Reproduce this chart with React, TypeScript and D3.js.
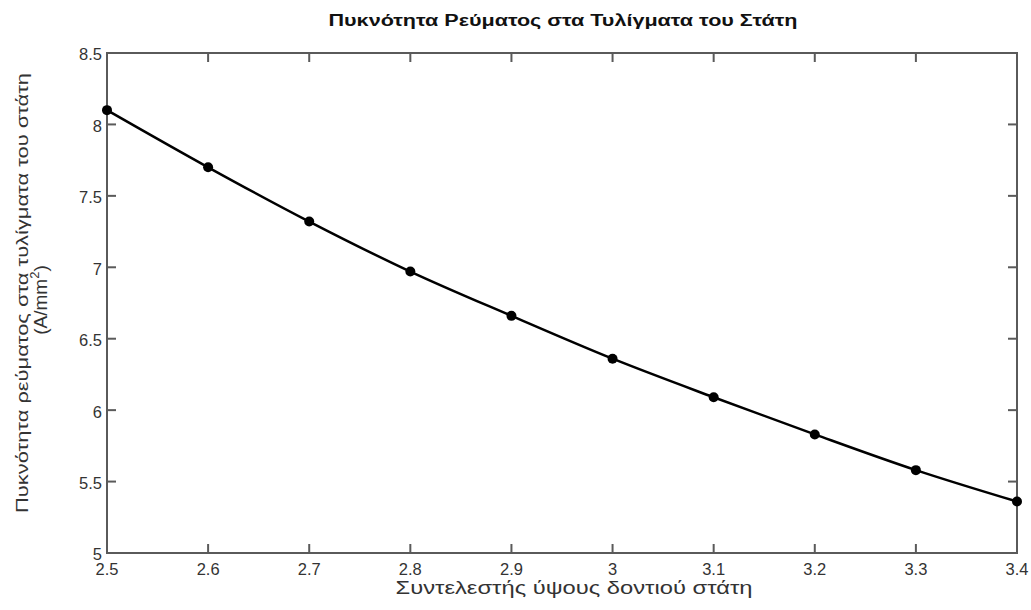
import * as d3 from 'd3';

const xValues = [2.5, 2.6, 2.7, 2.8, 2.9, 3.0, 3.1, 3.2, 3.3, 3.4];
const densityValues = [8.1, 7.7, 7.32, 6.97, 6.66, 6.36, 6.09, 5.83, 5.58, 5.36];
const xTicks = [2.5, 2.6, 2.7, 2.8, 2.9, 3.0, 3.1, 3.2, 3.3, 3.4];
const yTicks = [5, 5.5, 6, 6.5, 7, 7.5, 8, 8.5];

const title = 'Πυκνότητα Ρεύματος στα Τυλίγματα του Στάτη';
const xLabel = 'Συντελεστής ύψους δοντιού στάτη';
const yLabel1 = 'Πυκνότητα ρεύματος στα τυλίγματα του στάτη';

const width = 1031;
const height = 610;
const margin = { top: 53, right: 14, bottom: 57, left: 107 };

export default function App() {
  const innerW = width - margin.left - margin.right;
  const innerH = height - margin.top - margin.bottom;

  const x = d3.scaleLinear().domain([2.5, 3.4]).range([0, innerW]);
  const y = d3.scaleLinear().domain([5, 8.5]).range([innerH, 0]);

  const pts = xValues.map((v, i) => ({ x: v, y: densityValues[i] }));
  const line = d3.line<{ x: number; y: number }>()
    .x(d => x(d.x))
    .y(d => y(d.y))
    .curve(d3.curveMonotoneX);

  const axisColor = '#5a5a5a';
  const textColor = '#333';
  const font = '"Liberation Sans", Arial, sans-serif';
  const tick = 9;

  return (
    <svg
      width={width}
      height={height}
      style={{ position: 'absolute', left: 0, top: 0, background: '#fff' }}
      fontFamily={font}
    >
      <text
        x={563} y={26} textAnchor="middle" fontSize={16} fontWeight="bold" fill="#111"
        textLength={469} lengthAdjust="spacingAndGlyphs"
      >
        {title}
      </text>
      <g transform={`translate(${margin.left},${margin.top})`}>
        {/* box */}
        <rect x={0} y={0} width={innerW} height={innerH} fill="none" stroke={axisColor} strokeWidth={2} />
        {xTicks.map(t => (
          <g key={'x' + t}>
            <line x1={x(t)} x2={x(t)} y1={innerH} y2={innerH - tick} stroke={axisColor} strokeWidth={2} />
            <line x1={x(t)} x2={x(t)} y1={0} y2={tick} stroke={axisColor} strokeWidth={2} />
            <text x={x(t)} y={innerH + 22} textAnchor="middle" fontSize={16.5} fill={textColor}>
              {d3.format('~g')(t)}
            </text>
          </g>
        ))}
        {yTicks.map(t => (
          <g key={'y' + t}>
            <line x1={0} x2={tick} y1={y(t)} y2={y(t)} stroke={axisColor} strokeWidth={2} />
            <line x1={innerW} x2={innerW - tick} y1={y(t)} y2={y(t)} stroke={axisColor} strokeWidth={2} />
            <text x={-5} y={y(t)} dy="0.45em" textAnchor="end" fontSize={16.5} fill={textColor}>
              {d3.format('~g')(t)}
            </text>
          </g>
        ))}
        <path d={line(pts) ?? ''} fill="none" stroke="#000" strokeWidth={2.5} />
        {pts.map((p, i) => (
          <circle key={i} cx={x(p.x)} cy={y(p.y)} r={5} fill="#000" />
        ))}
      </g>
      <text
        x={574} y={594} textAnchor="middle" fontSize={18} fill={textColor}
        textLength={357} lengthAdjust="spacingAndGlyphs"
      >
        {xLabel}
      </text>
      <text
        transform="translate(28,293) rotate(-90)" textAnchor="middle" fontSize={17} fill={textColor}
        textLength={440} lengthAdjust="spacingAndGlyphs"
      >
        {yLabel1}
      </text>
      <text transform="translate(47,300) rotate(-90)" textAnchor="middle" fontSize={19} fill={textColor}>
        (A/mm<tspan dy={-8} fontSize={13}>2</tspan><tspan dy={8}>)</tspan>
      </text>
    </svg>
  );
}
